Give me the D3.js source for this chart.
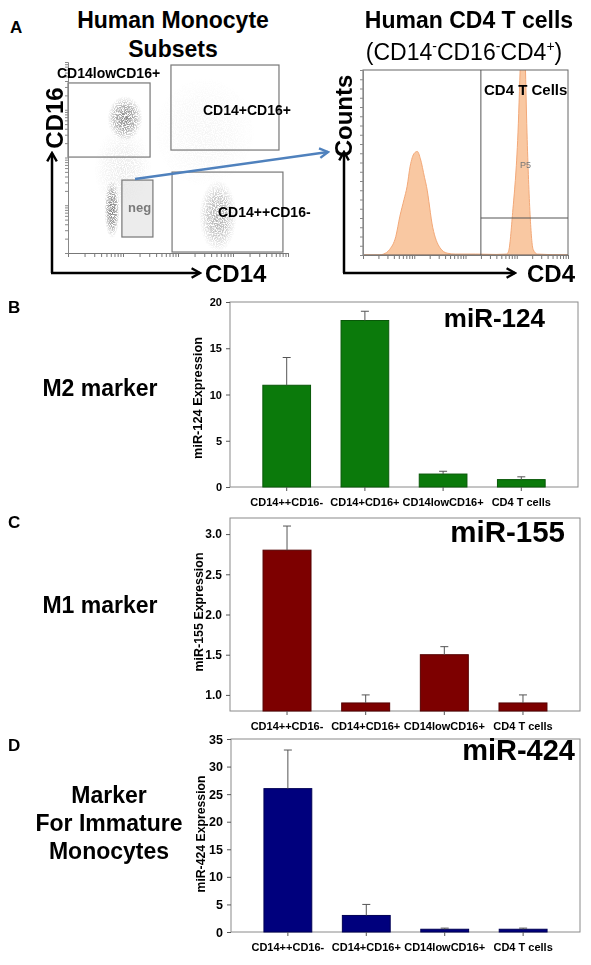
<!DOCTYPE html>
<html>
<head>
<meta charset="utf-8">
<script src="https://cdn.jsdelivr.net/npm/d3@7"></script>
<style>
body { margin: 0; background: #fff; }
svg { display: block; font-family: "Liberation Sans", Arial, sans-serif; }
</style>
</head>
<body>
<svg width="591" height="965"></svg>
<script>
"use strict"

const categories = ["CD14++CD16-", "CD14+CD16+", "CD14lowCD16+", "CD4 T cells"]

const mir124Values = [11, 18, 1.4, 0.8]
const mir124Errors = [3, 1, 0.3, 0.3]
const mir124Ticks = [0, 5, 10, 15, 20]

const mir155Values = [2.8, 0.9, 1.5, 0.9]
const mir155Errors = [0.3, 0.1, 0.1, 0.1]
const mir155Ticks = [1.0, 1.5, 2.0, 2.5, 3.0]

const mir424Values = [26, 3, 0.5, 0.5]
const mir424Errors = [7, 2, 0.2, 0.2]
const mir424Ticks = [0, 5, 10, 15, 20, 25, 30, 35]

// dot plot gates, channel units 0-1000 (CD14 across, CD16 up)
const gateNames = ["CD14lowCD16+", "CD14+CD16+", "neg", "CD14++CD16-"]
const gateX0 = [0, 468, 245, 473]
const gateX1 = [373, 959, 386, 977]
const gateY0 = [492, 528, 82, 5]
const gateY1 = [872, 964, 374, 415]

// cell populations: centre and spread in channel units, relative density
const clusterX = [259, 200, 682, 250, 620]
const clusterY = [690, 225, 190, 430, 620]
const clusterSX = [80, 35, 85, 130, 230]
const clusterSY = [115, 150, 185, 220, 280]
const clusterDensity = [0.9, 1, 0.6, 0.14, 0.07]

// CD4 histogram, channel units 0-100
const histChannel = [0, 8, 10, 13, 16, 18, 20, 21.5, 23, 25, 26.5, 28, 30, 31, 34, 37.5, 41, 45, 55, 65, 70, 71, 73, 75.6, 77, 78, 79, 80, 81.5, 83, 85, 100]
const histCounts = [0, 0, 0.5, 3, 10, 21, 30, 37, 48, 55, 56, 52, 42, 37, 15, 4, 1, 0.5, 0.5, 0.3, 0.5, 2, 23, 66, 110, 130, 110, 66, 22, 3, 0.5, 0]
const p5Gate = [57.5, 100, 20]   // from channel, to channel, count level

const svg = d3.select("svg")
const defs = svg.append("defs")

function arrowMarker(id, color) {
    defs.append("marker")
        .attr("id", id)
        .attr("viewBox", "0 0 10 10")
        .attr("refX", 8.5)
        .attr("refY", 5)
        .attr("markerWidth", 12)
        .attr("markerHeight", 12)
        .attr("markerUnits", "userSpaceOnUse")
        .attr("orient", "auto")
        .append("path")
        .attr("d", "M1.5,1 L8.5,5 L1.5,9")
        .attr("fill", "none")
        .attr("stroke", color)
        .attr("stroke-width", 2)
}
arrowMarker("blackHead", "#000")
arrowMarker("blueHead", "#4f81bd")

// soft cloud that fades to the edge
const cloud = defs.append("radialGradient").attr("id", "cloud")
cloud.append("stop").attr("offset", "0%").attr("stop-color", "#6e6e6e").attr("stop-opacity", 0.95)
cloud.append("stop").attr("offset", "55%").attr("stop-color", "#7a7a7a").attr("stop-opacity", 0.65)
cloud.append("stop").attr("offset", "100%").attr("stop-color", "#888").attr("stop-opacity", 0)

// grain mask so the clouds read as single events
const speckle = defs.append("filter")
    .attr("id", "speckle")
    .attr("x", "-10%").attr("y", "-10%")
    .attr("width", "120%").attr("height", "120%")
speckle.append("feTurbulence")
    .attr("type", "fractalNoise")
    .attr("baseFrequency", 0.9)
    .attr("numOctaves", 1)
    .attr("seed", 11)
    .attr("result", "noise")
speckle.append("feColorMatrix")
    .attr("in", "noise")
    .attr("type", "matrix")
    .attr("values", "0 0 0 0 0  0 0 0 0 0  0 0 0 0 0  0 0 0 6 -2.4")
    .attr("result", "grain")
speckle.append("feComposite").attr("in", "SourceGraphic").attr("in2", "grain").attr("operator", "in")

function label(x, y, text, size, opts = {}) {
    return svg.append("text")
        .attr("x", x)
        .attr("y", y)
        .attr("font-size", size)
        .attr("font-weight", opts.weight || "bold")
        .attr("text-anchor", opts.anchor || "start")
        .attr("fill", opts.fill || "#000")
        .text(text)
}

function rotatedLabel(x, y, text, size, len) {
    const t = svg.append("text")
        .attr("transform", `translate(${x},${y}) rotate(-90)`)
        .attr("font-size", size)
        .attr("font-weight", "bold")
        .attr("text-anchor", "middle")
        .text(text)
    if (len) t.attr("textLength", len).attr("lengthAdjust", "spacingAndGlyphs")
    return t
}

// ---------- Panel A : dot plot ----------
label(10, 33, "A", 17)
label(173, 28, "Human Monocyte", 23, { anchor: "middle" })
label(173, 57, "Subsets", 23, { anchor: "middle" })

const dotX = d3.scaleLinear().domain([0, 1000]).range([68, 288])
const dotY = d3.scaleLinear().domain([0, 1000]).range([253, 58])

const dots = svg.append("g").attr("filter", "url(#speckle)")
dots.selectAll("ellipse")
    .data(clusterX)
    .join("ellipse")
    .attr("cx", (d) => dotX(d))
    .attr("cy", (d, i) => dotY(clusterY[i]))
    .attr("rx", (d, i) => dotX(clusterSX[i]) - dotX(0))
    .attr("ry", (d, i) => dotY(0) - dotY(clusterSY[i]))
    .attr("fill", "url(#cloud)")
    .attr("opacity", (d, i) => clusterDensity[i])

const gates = svg.append("g")
gates.selectAll("rect")
    .data(gateNames)
    .join("rect")
    .attr("x", (d, i) => dotX(gateX0[i]))
    .attr("y", (d, i) => dotY(gateY1[i]))
    .attr("width", (d, i) => dotX(gateX1[i]) - dotX(gateX0[i]))
    .attr("height", (d, i) => dotY(gateY0[i]) - dotY(gateY1[i]))
    .attr("fill", (d) => (d === "neg" ? "rgba(228,228,228,0.7)" : "none"))
    .attr("stroke", "#777")
    .attr("stroke-width", 1.2)

const dotLogX = d3.scaleLog().domain([10, 100000]).range([68, 288])
const dotLogY = d3.scaleLog().domain([10, 100000]).range([253, 62])
svg.append("g")
    .attr("transform", "translate(0,253)")
    .call(d3.axisBottom(dotLogX).tickSize(4).tickFormat(""))
    .call((g) => g.selectAll("line,path").attr("stroke", "#777"))
svg.append("g")
    .attr("transform", "translate(68,0)")
    .call(d3.axisLeft(dotLogY).tickSize(3).tickFormat(""))
    .call((g) => g.selectAll("line,path").attr("stroke", "#888"))

label(57, 78, "CD14lowCD16+", 14)
label(203, 115, "CD14+CD16+", 14)
label(218, 217, "CD14++CD16-", 14)
label(128, 212, "neg", 13, { fill: "#7a7a7a" })

// axis arrows
svg.append("path")
    .attr("d", "M52,273 L52,153")
    .attr("stroke", "#000").attr("stroke-width", 2.5).attr("fill", "none")
    .attr("marker-end", "url(#blackHead)")
svg.append("path")
    .attr("d", "M51,273 L200,273")
    .attr("stroke", "#000").attr("stroke-width", 2.5).attr("fill", "none")
    .attr("marker-end", "url(#blackHead)")
rotatedLabel(63, 118, "CD16", 24)
label(205, 282, "CD14", 24)

// gating arrow to the CD4 panel
svg.append("path")
    .attr("d", "M135,179 L328,152")
    .attr("stroke", "#4f81bd").attr("stroke-width", 2.5).attr("fill", "none")
    .attr("marker-end", "url(#blueHead)")

// ---------- Panel A : CD4 histogram ----------
label(469, 28, "Human CD4 T cells", 23, { anchor: "middle" })
const sub = svg.append("text")
    .attr("x", 464)
    .attr("y", 60)
    .attr("font-size", 23)
    .attr("text-anchor", "middle")
sub.append("tspan").text("(CD14")
sub.append("tspan").attr("font-size", 14).attr("dy", -9).text("-")
sub.append("tspan").attr("dy", 9).text("CD16")
sub.append("tspan").attr("font-size", 14).attr("dy", -9).text("-")
sub.append("tspan").attr("dy", 9).text("CD4")
sub.append("tspan").attr("font-size", 14).attr("dy", -9).text("+")
sub.append("tspan").attr("dy", 9).text(")")

const histX = d3.scaleLinear().domain([0, 100]).range([363, 568])
const histY = d3.scaleLinear().domain([0, 100]).range([255, 70])

defs.append("clipPath")
    .attr("id", "histClip")
    .append("rect")
    .attr("x", 363).attr("y", 70).attr("width", 205).attr("height", 185)

const histArea = d3.area()
    .x((d) => histX(d))
    .y0(histY(0))
    .y1((d, i) => histY(histCounts[i]))
    .curve(d3.curveMonotoneX)

svg.append("path")
    .datum(histChannel)
    .attr("clip-path", "url(#histClip)")
    .attr("d", histArea)
    .attr("fill", "#f9c8a2")
    .attr("stroke", "#f2a878")
    .attr("stroke-width", 1)

svg.append("rect")
    .attr("x", 363).attr("y", 70).attr("width", 205).attr("height", 185)
    .attr("fill", "none").attr("stroke", "#666").attr("stroke-width", 1)
svg.append("line")
    .attr("x1", histX(p5Gate[0])).attr("x2", histX(p5Gate[0]))
    .attr("y1", histY(0)).attr("y2", histY(100))
    .attr("stroke", "#555").attr("stroke-width", 1)
svg.append("line")
    .attr("x1", histX(p5Gate[0])).attr("x2", histX(p5Gate[1]))
    .attr("y1", histY(p5Gate[2])).attr("y2", histY(p5Gate[2]))
    .attr("stroke", "#555").attr("stroke-width", 1)

const histLogX = d3.scaleLog().domain([10, 100000]).range([363, 568])
svg.append("g")
    .attr("transform", "translate(0,255)")
    .call(d3.axisBottom(histLogX).tickSize(4).tickFormat(""))
    .call((g) => g.selectAll("line,path").attr("stroke", "#777"))
svg.append("g")
    .attr("transform", "translate(363,0)")
    .call(d3.axisLeft(histY).ticks(22).tickSize(3).tickFormat(""))
    .call((g) => g.selectAll("line,path").attr("stroke", "#888"))

label(484, 95, "CD4 T Cells", 15)
label(520, 168, "P5", 9, { weight: "normal", fill: "#777" })

svg.append("path")
    .attr("d", "M344,273 L344,152")
    .attr("stroke", "#000").attr("stroke-width", 2.5).attr("fill", "none")
    .attr("marker-end", "url(#blackHead)")
svg.append("path")
    .attr("d", "M343,273 L515,273")
    .attr("stroke", "#000").attr("stroke-width", 2.5).attr("fill", "none")
    .attr("marker-end", "url(#blackHead)")
rotatedLabel(352, 116, "Counts", 24)
label(527, 282, "CD4", 24)

// ---------- Panels B, C, D : bar charts ----------
function barPanel(o) {
    const g = svg.append("g")
    const x = d3.scaleBand()
        .domain(categories)
        .range([o.left, o.right])
        .paddingInner(0.39)
        .paddingOuter(0.42)
    const y = d3.scaleLinear().domain(o.domain).range([o.bottom, o.top])

    g.append("rect")
        .attr("x", o.left).attr("y", o.top)
        .attr("width", o.right - o.left).attr("height", o.bottom - o.top)
        .attr("fill", "none").attr("stroke", "#8a8a8a").attr("stroke-width", 1)

    g.selectAll(".bar")
        .data(categories)
        .join("rect")
        .attr("class", "bar")
        .attr("x", (d) => x(d))
        .attr("y", (d, i) => y(o.values[i]))
        .attr("width", x.bandwidth())
        .attr("height", (d, i) => o.bottom - y(o.values[i]))
        .attr("fill", o.color)
        .attr("stroke", o.edge)
        .attr("stroke-width", 1)

    const cap = 4
    const err = g.selectAll(".err")
        .data(categories)
        .join("g")
        .attr("class", "err")
        .attr("stroke", "#555")
        .attr("stroke-width", 1)
    err.append("line")
        .attr("x1", (d) => x(d) + x.bandwidth() / 2)
        .attr("x2", (d) => x(d) + x.bandwidth() / 2)
        .attr("y1", (d, i) => y(o.values[i]))
        .attr("y2", (d, i) => y(o.values[i] + o.errors[i]))
    err.append("line")
        .attr("x1", (d) => x(d) + x.bandwidth() / 2 - cap)
        .attr("x2", (d) => x(d) + x.bandwidth() / 2 + cap)
        .attr("y1", (d, i) => y(o.values[i] + o.errors[i]))
        .attr("y2", (d, i) => y(o.values[i] + o.errors[i]))

    g.append("g")
        .attr("transform", `translate(${o.left},0)`)
        .call(d3.axisLeft(y).tickValues(o.ticks).tickSize(4).tickPadding(4).tickFormat(o.format))
        .call((a) => a.select(".domain").remove())
        .call((a) => a.selectAll("line").attr("stroke", "#555"))
        .call((a) => a.selectAll("text")
            .attr("font-family", "Liberation Sans, Arial, sans-serif")
            .attr("font-size", o.tickSize)
            .attr("font-weight", "bold")
            .attr("fill", "#000"))

    g.append("g")
        .attr("transform", `translate(0,${o.bottom})`)
        .call(d3.axisBottom(x).tickSize(4).tickPadding(7))
        .call((a) => a.select(".domain").remove())
        .call((a) => a.selectAll("line").attr("stroke", "#555"))
        .call((a) => a.selectAll("text")
            .attr("font-family", "Liberation Sans, Arial, sans-serif")
            .attr("font-size", 11)
            .attr("font-weight", "bold")
            .attr("fill", "#000"))

    label(o.titleX, o.titleY, o.title, o.titleSize, { anchor: "end" })
    rotatedLabel(o.yLabelX, o.yLabelY, o.yLabel, 13, o.yLabelLen)
}

label(8, 313, "B", 17)
label(100, 396, "M2 marker", 23, { anchor: "middle" })
barPanel({
    values: mir124Values, errors: mir124Errors, ticks: mir124Ticks,
    domain: [0, 20], format: d3.format("d"),
    left: 230, right: 578, top: 302, bottom: 487,
    color: "#0b7a0b", edge: "#085808",
    title: "miR-124", titleX: 545, titleY: 327, titleSize: 26,
    yLabel: "miR-124 Expression", yLabelX: 202, yLabelY: 398, yLabelLen: 122,
    tickSize: 11
})

label(8, 528, "C", 17)
label(100, 613, "M1 marker", 23, { anchor: "middle" })
barPanel({
    values: mir155Values, errors: mir155Errors, ticks: mir155Ticks,
    domain: [0.8, 3.2], format: d3.format(".1f"),
    left: 230, right: 580, top: 518, bottom: 711,
    color: "#7d0000", edge: "#550000",
    title: "miR-155", titleX: 565, titleY: 542, titleSize: 29.5,
    yLabel: "miR-155 Expression", yLabelX: 203, yLabelY: 612, yLabelLen: 119,
    tickSize: 12
})

label(8, 751, "D", 17)
label(109, 803, "Marker", 23, { anchor: "middle" })
label(109, 831, "For Immature", 23, { anchor: "middle" })
label(109, 859, "Monocytes", 23, { anchor: "middle" })
barPanel({
    values: mir424Values, errors: mir424Errors, ticks: mir424Ticks,
    domain: [0, 35], format: d3.format("d"),
    left: 231, right: 580, top: 739, bottom: 932,
    color: "#00007d", edge: "#000055",
    title: "miR-424", titleX: 575, titleY: 760, titleSize: 29,
    yLabel: "miR-424 Expression", yLabelX: 205, yLabelY: 834, yLabelLen: 117,
    tickSize: 12.5
})
</script>
</body>
</html>
